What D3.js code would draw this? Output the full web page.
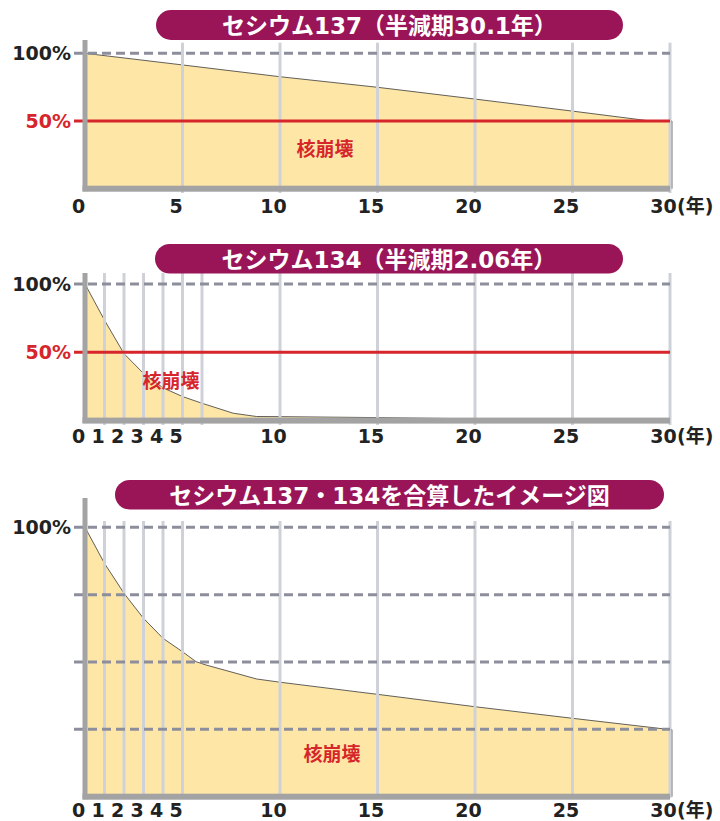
<!DOCTYPE html>
<html><head><meta charset="utf-8">
<script src="https://cdn.jsdelivr.net/npm/d3@7"></script>
<style>
html,body{margin:0;padding:0;background:#fff;}
svg{display:block;}
</style></head>
<body><svg id="chart" width="720" height="821"></svg>
<script>
// Remaining share (%) over time (years)
const years137 = [0, 5, 10, 15, 20, 25, 29, 30.1];
const share137 = [100, 91.4, 82.7, 74.9, 66.2, 57.3, 50, 50];

const years134 = [0, 1, 2, 3, 4, 5, 6, 7.6, 8.8, 10, 15, 20, 25, 30];
const share134 = [100, 73.5, 49, 34.5, 24, 17.6, 12.7, 5.4, 3, 2.9, 2.2, 1.3, 0.7, 0.4];

const yearsSum = [0, 1, 2, 3, 4, 5, 5.7, 6.2, 8.8, 10, 14.1, 15, 20, 25, 30, 30.1];
const shareSum = [100, 86.6, 75.5, 66.2, 58.8, 53.8, 50.1, 48.9, 43.7, 42.5, 38.8, 38.0, 33.4, 29.1, 24.9, 24.9];

const titles = [
  "セシウム137（半減期30.1年）",
  "セシウム134（半減期2.06年）",
  "セシウム137・134を合算したイメージ図"
];
const ticksCoarse = [0, 5, 10, 15, 20, 25, 30];
const ticksFine = [0, 1, 2, 3, 4, 5, 10, 15, 20, 25, 30];
const grid137 = [5, 10, 15, 20, 25, 30];
const grid134 = [1, 2, 3, 4, 5, 6, 10, 15, 20, 25, 30];
const gridSum = [1, 2, 3, 4, 5, 10, 15, 20, 25, 30];
const dashedSingle = [100];
const dashedQuarters = [100, 75, 50, 25];
const halfLevel = 50;
const decayLabel = "核崩壊";
const yearUnit = ["(", "年", ")"];

const C = {
  fill: "#fde6a6", edge: "#3a3a3a", grid: "#cfd1d9", dash: "#8d8e9c",
  bar: "#a3a3a3", red: "#d7262b", pill: "#9a1558", ink: "#222"
};
const latin = "'DejaVu Sans','Noto Sans CJK JP',sans-serif";
const cjk = "'Noto Sans CJK JP','DejaVu Sans',sans-serif";

const svg = d3.select("#chart");
const x = d3.scaleLinear().domain([0, 30]).range([85, 670]);

const panels = [
  { title: titles[0], years: years137, share: share137, ticks: ticksCoarse, grid: grid137,
    dashed: dashedSingle, half: true, titleSize: 23,
    pill: [156, 623, 10, 30], y100: 53.3, y0: 188.7, axisTop: 40, gridTop: 42.7, gridBottom: 193,
    labelY: 213, decay: [325, 147] },
  { title: titles[1], years: years134, share: share134, ticks: ticksFine, grid: grid134,
    dashed: dashedSingle, half: true, titleSize: 23,
    pill: [155, 623, 244, 29.5], y100: 284, y0: 420.6, axisTop: 273, gridTop: 273, gridBottom: 425,
    labelY: 443, decay: [171, 379] },
  { title: titles[2], years: yearsSum, share: shareSum, ticks: ticksFine, grid: gridSum,
    dashed: dashedQuarters, half: false, titleSize: 23,
    pill: [115, 664, 480, 29.5], y100: 527.3, y0: 796.7, axisTop: 498, gridTop: 521, gridBottom: 798,
    labelY: 817, decay: [332, 752] }
];

panels.forEach(p => {
  const y = d3.scaleLinear().domain([0, 100]).range([p.y0, p.y100]);
  const g = svg.append("g");
  const pts = p.years.map((t, i) => [t, p.share[i]]);

  // decay area
  const area = d3.area().x(d => x(d[0])).y0(y(0)).y1(d => y(d[1]));
  g.append("path").datum(pts).attr("d", area).attr("fill", C.fill);
  const last = pts[pts.length - 1];
  const outline = d3.line().x(d => x(d[0])).y(d => y(d[1]));
  g.append("path").datum(pts.concat([[last[0], 0]]))
    .attr("d", outline).attr("fill", "none").attr("stroke", C.edge).attr("stroke-width", 0.8);

  // vertical year grid
  g.selectAll("line.grid").data(p.grid).enter().append("line")
    .attr("x1", d => x(d)).attr("x2", d => x(d))
    .attr("y1", p.gridTop).attr("y2", p.gridBottom)
    .attr("stroke", C.grid).attr("stroke-width", 3);

  // dashed reference levels
  g.selectAll("line.dash").data(p.dashed).enter().append("line")
    .attr("x1", 74).attr("x2", x(30))
    .attr("y1", d => y(d)).attr("y2", d => y(d))
    .attr("stroke", C.dash).attr("stroke-width", 3).attr("stroke-dasharray", "9,5");

  // half-life level
  if (p.half) {
    g.append("line").attr("x1", 74).attr("x2", x(30))
      .attr("y1", y(halfLevel)).attr("y2", y(halfLevel))
      .attr("stroke", C.red).attr("stroke-width", 3);
    g.append("text").attr("x", 71).attr("y", y(halfLevel) + 7)
      .attr("text-anchor", "end").attr("font-family", latin).attr("font-weight", "bold")
      .attr("font-size", 19).attr("fill", C.red).text(halfLevel + "%");
  }

  // axis bars
  g.append("rect").attr("x", 82.5).attr("y", p.axisTop).attr("width", 5)
    .attr("height", y(0) + 2.5 - p.axisTop).attr("fill", C.bar);
  g.append("rect").attr("x", 82.5).attr("y", y(0) - 3).attr("width", x(30) - 82.5)
    .attr("height", 6).attr("fill", C.bar);

  // 100% label
  g.append("text").attr("x", 71).attr("y", y(100) + 7)
    .attr("text-anchor", "end").attr("font-family", latin).attr("font-weight", "bold")
    .attr("font-size", 19).attr("fill", C.ink).text("100%");

  // year axis labels
  const axis = d3.axisBottom(x).tickValues(p.ticks).tickSize(0).tickFormat(d3.format("d"));
  const ag = g.append("g").attr("transform", `translate(0,${p.labelY})`).call(axis);
  ag.select(".domain").remove();
  ag.selectAll("text").attr("y", 0).attr("dy", 0).attr("dx", -7)
    .attr("font-family", latin).attr("font-weight", "bold").attr("font-size", 19).attr("fill", C.ink);
  const unit = g.append("text").attr("x", x(30) + 7).attr("y", p.labelY)
    .attr("font-family", latin).attr("font-weight", "bold").attr("font-size", 19)
    .attr("fill", C.ink);
  unit.append("tspan").text(yearUnit[0]);
  unit.append("tspan").attr("font-family", cjk).text(yearUnit[1]);
  unit.append("tspan").text(yearUnit[2]);

  // decay label
  g.append("text").attr("x", p.decay[0]).attr("y", p.decay[1])
    .attr("text-anchor", "middle").attr("dominant-baseline", "central")
    .attr("font-family", cjk).attr("font-weight", "bold").attr("font-size", 19)
    .attr("fill", C.red).text(decayLabel);

  // title pill
  const [px0, px1, py, ph] = p.pill;
  g.append("rect").attr("x", px0).attr("y", py).attr("width", px1 - px0).attr("height", ph)
    .attr("rx", ph / 2).attr("fill", C.pill);
  g.append("text").attr("x", (px0 + px1) / 2).attr("y", py + ph / 2 + 1)
    .attr("text-anchor", "middle").attr("dominant-baseline", "central")
    .attr("font-family", latin).attr("font-weight", "bold").attr("font-size", p.titleSize)
    .attr("fill", "#fff").text(p.title);
});
</script>
</body></html>
